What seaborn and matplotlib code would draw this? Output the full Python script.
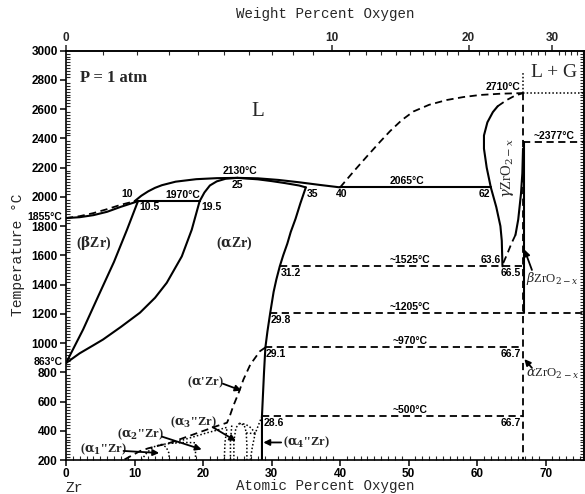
import numpy as np
import matplotlib
matplotlib.use("Agg")
import matplotlib.pyplot as plt
from matplotlib.ticker import MultipleLocator, FixedLocator, NullFormatter
import seaborn as sns

sns.set_theme(style="white")
plt.rcParams["font.family"] = ["Liberation Sans", "DejaVu Sans"]
plt.rcParams["mathtext.fontset"] = "dejavuserif"

# ---------------- phase boundaries (atomic % O, temperature in °C) ----------------
# (betaZr) liquidus / solidus
bz_liq_at = [0, 2, 4, 6, 8, 10]
bz_liq_T = [1855, 1868, 1889, 1916, 1946, 1970]
bz_sol_at = [0, 2, 4, 6, 8, 10.5]
bz_sol_T = [1855, 1861, 1875, 1898, 1932, 1970]
# (alphaZr) liquidus up to the congruent maximum
az_liq_at = [10, 11, 12, 13, 14, 16, 19, 22, 25]
az_liq_T = [1970, 2008, 2038, 2062, 2080, 2104, 2121, 2128, 2130]
# (alphaZr) solidus below the maximum
az_sol_at = [19.5, 20.2, 21, 22, 23.3, 25]
az_sol_T = [1970, 2030, 2078, 2106, 2124, 2130]
# liquidus and solidus on the oxygen-rich side of the maximum
ox_liq_at = [25, 28, 31, 34, 37, 40]
ox_liq_T = [2130, 2127, 2116, 2100, 2082, 2065]
ox_sol_at = [25, 28, 30, 32, 34, 35]
ox_sol_T = [2130, 2120, 2108, 2094, 2078, 2065]
# beta / (alpha + beta) transus boundaries
b_trans_at = [0, 2.5, 4.7, 7.0, 8.9, 10.5]
b_trans_T = [863, 1093, 1320, 1555, 1775, 1970]
a_trans_at = [0, 2, 4, 5.4, 8, 10.8, 13, 14.7, 16.9, 18.35, 19.5]
a_trans_T = [863, 930, 985, 1024, 1110, 1208, 1310, 1412, 1593, 1775, 1970]
# (alphaZr) solvus towards ZrO2
a_solv_at = [35, 34.2, 33.5, 32.8, 32.3, 31.7, 31.2, 30.7, 30.3, 29.8, 29.4, 29.1, 28.9, 28.7, 28.6, 28.6]
a_solv_T = [2065, 1955, 1850, 1760, 1680, 1600, 1525, 1435, 1350, 1205, 1080, 970, 800, 600, 500, 200]
# ZrO2 liquidus
zro_liq_at = [40, 42, 43.9, 45.8, 47.3, 49, 50.7, 53, 55.6, 58, 60.4, 63.5, 66.7]
zro_liq_T = [2065, 2175, 2276, 2375, 2450, 2525, 2584, 2630, 2663, 2683, 2697, 2706, 2710]
# gamma-ZrO2 boundaries
g_left_at = [63.7, 63.6, 63.4, 62.8, 62.0, 61.4, 61.0, 61.0, 61.5, 62.3, 63.0]
g_left_T = [1525, 1700, 1800, 1930, 2065, 2200, 2330, 2420, 2510, 2580, 2620]
g_top_at = [63.0, 64.3, 65.5, 66.7]
g_top_T = [2620, 2662, 2692, 2710]
g_right_at = [66.7, 66.6, 66.4, 66.0, 65.6]
g_right_T = [2330, 2160, 2020, 1845, 1740]
g_right_d_at = [65.6, 65.0, 64.4, 63.6]
g_right_d_T = [1740, 1680, 1610, 1525]
# isotherms (start, end, temperature)
iso_2065 = [40, 62, 2065]
iso_1970 = [10, 19.5, 1970]
iso_1525 = [31.2, 66.5, 1525]
iso_1205 = [29.8, 75.6, 1205]
iso_970 = [29.1, 66.7, 970]
iso_500 = [28.6, 66.7, 500]
iso_2710 = [66.7, 75.6, 2710]
iso_2377 = [66.7, 75.6, 2377]
# ZrO2 composition line
zro2_at = 66.7
# low-temperature ordered phases
ap_at = [29.1, 28.3, 26.9, 25.9, 25.2, 24.4, 23.9, 23.5, 22.0, 18.6, 15.2, 12.0, 10.8, 8.4]
ap_T = [970, 944, 853, 751, 660, 568, 500, 455, 432, 375, 318, 280, 261, 200]
dome1_at = [11, 11.8, 12.8, 13.8, 14.6, 15.0, 15.1]
dome1_T = [200, 250, 290, 305, 290, 250, 200]
a2_at = [13.8, 15.5, 17.5, 18.9, 18.9]
a2_T = [305, 315, 320, 318, 200]
a2_up_at = [15.5, 18, 20.5, 22.5, 23.6]
a2_up_T = [315, 350, 385, 410, 425]
v1_at = [23.1, 23.2, 23.5]
v1_T = [200, 320, 420]
v2_at = [24.0, 24.0, 24.2]
v2_T = [200, 330, 440]
dome3_at = [24.5, 24.5, 24.8, 25.3, 26.0, 26.3, 26.4, 26.4]
dome3_T = [200, 330, 420, 450, 440, 390, 300, 200]
dome3_r_at = [25.3, 26.2, 27.0, 27.6]
dome3_r_T = [450, 445, 420, 385]
h380_at = [26.3, 27.6]
h380_T = [385, 380]
a4_at = [26.9, 27.2, 27.6, 28.1, 28.6]
a4_T = [200, 290, 380, 440, 500]

x_ticks = list(range(0, 71, 10))
y_ticks = list(range(200, 3001, 200))
wt_ticks = [0, 10, 20, 30]

# ---------------- figure ----------------
fig = plt.figure(figsize=(5.85, 4.94), dpi=100)
ax = fig.add_axes([66 / 585, 1 - 460 / 494, (584 - 66) / 585, (460 - 50.7) / 494])
ax.set_facecolor("white")

SOLID = dict(color="black", lw=1.5)
DASH = dict(color="black", lw=1.3, linestyle=(0, (4, 2.5)))
DOT = dict(color="black", lw=1.1, linestyle=(0, (1, 1.4)))


def curve(x, y, style):
    sns.lineplot(x=np.asarray(x, float), y=np.asarray(y, float), sort=False,
                 estimator=None, ax=ax, **style)


curve(bz_liq_at, bz_liq_T, DASH)
curve(bz_sol_at, bz_sol_T, SOLID)
curve(az_liq_at, az_liq_T, SOLID)
curve(az_sol_at, az_sol_T, SOLID)
curve(ox_liq_at, ox_liq_T, SOLID)
curve(ox_sol_at, ox_sol_T, SOLID)
curve(b_trans_at, b_trans_T, SOLID)
curve(a_trans_at, a_trans_T, SOLID)
curve(a_solv_at, a_solv_T, SOLID)
curve(zro_liq_at, zro_liq_T, DASH)
curve(g_left_at, g_left_T, SOLID)
curve(g_top_at, g_top_T, DASH)
curve(g_right_at, g_right_T, SOLID)
curve(g_right_d_at, g_right_d_T, DASH)

for iso, st in [(iso_2065, SOLID), (iso_1970, SOLID)]:
    curve(iso[:2], [iso[2]] * 2, st)
for iso in [iso_1525, iso_1205, iso_970, iso_500, iso_2377]:
    curve(iso[:2], [iso[2]] * 2, DASH)
curve(iso_2710[:2], [iso_2710[2]] * 2, DOT)

# ZrO2 line: dotted above the melting point, dashed below, solid solubility range
curve([zro2_at, zro2_at], [2710, 2860], DOT)
curve([zro2_at, zro2_at], [2710, 200], DASH)
curve([zro2_at + 0.1, zro2_at + 0.1], [2377, 1205], SOLID)

curve(ap_at, ap_T, DASH)
for xs, ys in [(dome1_at, dome1_T), (a2_at, a2_T), (a2_up_at, a2_up_T),
               (v1_at, v1_T), (v2_at, v2_T), (dome3_at, dome3_T),
               (dome3_r_at, dome3_r_T), (h380_at, h380_T), (a4_at, a4_T)]:
    curve(xs, ys, DOT)

ax.set_xlim(0, 75.6)
ax.set_ylim(200, 3000)

# ---------------- annotations ----------------
NUM = dict(fontsize=7.5, fontweight="bold", color="black")
SERIF = ["Liberation Serif", "DejaVu Serif"]


def num(x, y, s, ha="center", va="center"):
    ax.text(x, y, s, ha=ha, va=va, clip_on=False, **NUM)


num(9.8, 1985, "10", ha="right", va="bottom")
num(10.7, 1962, "10.5", ha="left", va="top")
num(17.0, 1978, "1970°C", va="bottom")
num(19.8, 1962, "19.5", ha="left", va="top")
num(25.4, 2140, "2130°C", va="bottom")
num(25.0, 2118, "25", va="top")
num(35.2, 2055, "35", ha="left", va="top")
num(40.2, 2055, "40", va="top")
num(49.7, 2073, "2065°C", va="bottom")
num(61.9, 2055, "62", ha="right", va="top")
num(66.3, 2718, "2710°C", ha="right", va="bottom")
num(71.3, 2385, "~2377°C", va="bottom")
num(50.2, 1533, "~1525°C", va="bottom")
num(63.5, 1533, "63.6", ha="right", va="bottom")
num(66.4, 1515, "66.5", ha="right", va="top")
num(31.3, 1515, "31.2", ha="left", va="top")
num(50.2, 1213, "~1205°C", va="bottom")
num(29.9, 1195, "29.8", ha="left", va="top")
num(50.2, 978, "~970°C", va="bottom")
num(29.2, 960, "29.1", ha="left", va="top")
num(66.4, 960, "66.7", ha="right", va="top")
num(50.2, 508, "~500°C", va="bottom")
num(28.8, 490, "28.6", ha="left", va="top")
num(66.4, 490, "66.7", ha="right", va="top")
num(-0.5, 1862, "1855°C", ha="right")
num(-0.5, 870, "863°C", ha="right")

ax.text(2.0, 2810, "P = 1 atm", fontsize=12, fontweight="bold",
        family=SERIF, ha="left", va="center")
ax.text(28.0, 2585, "L", fontsize=15, family=SERIF, ha="center", va="center")
ax.text(67.9, 2852, "L + G", fontsize=14, family=SERIF, ha="left", va="center")
ax.text(4.0, 1685, r"($\mathbf{\beta}$Zr)", fontsize=10, fontweight="bold",
        family=SERIF, ha="center", va="center")
ax.text(24.5, 1685, r"($\mathbf{\alpha}$Zr)", fontsize=10, fontweight="bold",
        family=SERIF, ha="center", va="center")
ax.text(64.5, 2200, r"$\gamma$ZrO$_{2-x}$", fontsize=10.5, family=SERIF,
        rotation=90, ha="center", va="center")
ax.text(67.1, 1440, r"$\beta$ZrO$_{2-x}$", fontsize=9.2, family=SERIF,
        ha="left", va="center")
ax.text(67.1, 790, r"$\alpha$ZrO$_{2-x}$", fontsize=9.2, family=SERIF,
        ha="left", va="center")

LAB = dict(fontsize=9, fontweight="bold", family=SERIF, va="center")
ARR = dict(arrowstyle="-|>", color="black", lw=1.3, mutation_scale=9,
           shrinkA=0, shrinkB=0)
labels = [
    (r"($\mathbf{\alpha_1}$''Zr)", 5.4, 270, "center", (8.4, 262), (13.6, 248)),
    (r"($\mathbf{\alpha_2}$''Zr)", 10.8, 375, "center", (14.0, 360), (19.8, 272)),
    (r"($\mathbf{\alpha_3}$''Zr)", 18.6, 455, "center", (21.4, 425), (24.8, 330)),
    (r"($\mathbf{\alpha}$'Zr)", 20.3, 735, "center", (22.9, 722), (25.6, 675)),
    (r"($\mathbf{\alpha_4}$''Zr)", 31.6, 320, "left", (31.4, 320), (28.8, 320)),
]
for s, tx, ty, ha, a0, a1 in labels:
    ax.text(tx, ty, s, ha=ha, **LAB)
    ax.annotate("", xy=a1, xytext=a0, arrowprops=ARR)

ax.annotate("", xy=(66.9, 1640), xytext=(68.0, 1500), arrowprops=ARR)
ax.annotate("", xy=(66.9, 890), xytext=(68.0, 830), arrowprops=ARR)

# ---------------- axes, ticks ----------------
for sp in ax.spines.values():
    sp.set_color("black")
    sp.set_linewidth(1.2)

ax.xaxis.set_major_locator(FixedLocator(x_ticks))
ax.xaxis.set_minor_locator(MultipleLocator(1))
ax.yaxis.set_major_locator(FixedLocator(y_ticks))
ax.yaxis.set_minor_locator(MultipleLocator(20))
ax.tick_params(which="major", direction="out", length=4, width=1.1,
               labelsize=8.5, colors="black", pad=2, top=False, right=False,
               bottom=True, left=True)
ax.tick_params(which="minor", direction="in", length=3, width=0.8,
               top=False, right=False, bottom=True, left=True)
for lab in ax.get_xticklabels() + ax.get_yticklabels():
    lab.set_fontweight("bold")
ax.set_xlabel("")
ax.set_ylabel("")


def at_to_wt(a):
    a = np.asarray(a, float)
    return 100 * 16.0 * a / (16.0 * a + 91.224 * (100 - a))


def wt_to_at(w):
    w = np.asarray(w, float)
    return 100 * (w / 16.0) / (w / 16.0 + (100 - w) / 91.224)


top = ax.secondary_xaxis("top", functions=(at_to_wt, wt_to_at))
top.xaxis.set_major_locator(FixedLocator(wt_ticks))
top.xaxis.set_minor_locator(MultipleLocator(1))
top.tick_params(which="major", direction="out", length=4, width=1.1,
                labelsize=8.5, pad=1)
top.tick_params(which="minor", direction="in", length=3, width=0.8)
for lab in top.get_xticklabels():
    lab.set_fontweight("bold")

right = ax.secondary_yaxis("right")
right.yaxis.set_major_locator(FixedLocator(y_ticks))
right.yaxis.set_minor_locator(MultipleLocator(20))
right.yaxis.set_major_formatter(NullFormatter())
right.tick_params(which="both", direction="in", length=3, width=0.8)

MONO = ["Liberation Mono", "DejaVu Sans Mono"]
fig.text(325 / 585, 1 - 14 / 494, "Weight Percent Oxygen", family=MONO,
         fontsize=10.2, ha="center", va="center")
fig.text(325 / 585, 1 - 486 / 494, "Atomic Percent Oxygen", family=MONO,
         fontsize=10.2, ha="center", va="center")
fig.text(18 / 585, 1 - 255 / 494, "Temperature °C", family=MONO,
         fontsize=10.5, rotation=90, ha="center", va="center")
fig.text(66 / 585, 1 - 488 / 494, "Zr", family=MONO, fontsize=10.5,
         ha="left", va="center")

fig.savefig("out.png", dpi=100, facecolor="white")
